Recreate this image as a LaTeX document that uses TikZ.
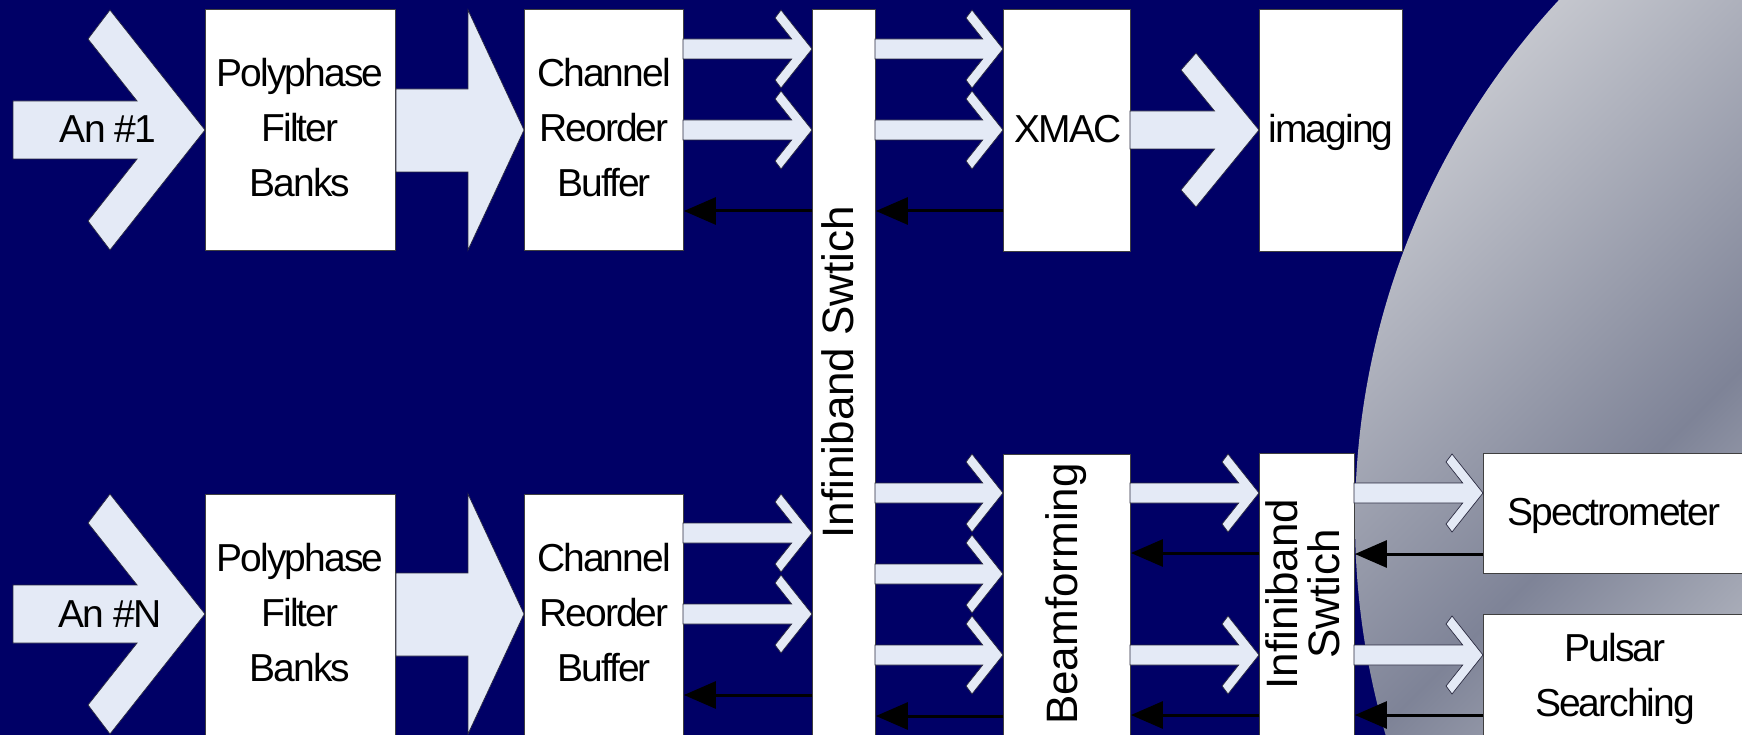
\documentclass[tikz,border=0pt]{standalone}
\usepackage{fontspec}
\setmainfont{Liberation Sans}
\newfontfamily\hfont[LetterSpace=-5]{Liberation Sans}
\newfontfamily\rfont{Liberation Sans}
\usetikzlibrary{arrows.meta}
\definecolor{navy}{HTML}{000066}
\definecolor{afill}{HTML}{E4EAF6}
\definecolor{aline}{HTML}{2A2A40}
\definecolor{bline}{HTML}{404040}
\definecolor{cLa}{HTML}{C6C8CF}
\definecolor{cDk}{HTML}{7E8397}
\definecolor{cLb}{HTML}{BEC1C9}
\tikzset{
  box/.style={draw=bline, line width=0.9pt, fill=white, inner sep=0pt, anchor=north west},
  chevsty/.style={fill=afill, draw=aline, line width=0.7pt},
  barrow/.style={-{Triangle[length=32pt,width=27pt]}, line width=3pt, black},
  hl/.style={font=\hfont\fontsize{39}{55}\selectfont, align=center, inner sep=0pt, anchor=base},
  rl/.style={font=\rfont\fontsize{44}{42}\selectfont, align=center, inner sep=0pt, anchor=base, rotate=90},
  pics/chev/.style n args={6}{code={
    % #1=L  #2=w  #3=a  #4=h  #5=qx  #6=qy
    \pgfmathsetmacro\chix{-(#5)+((#6)-(#2))*(#3)/(#4)}
    \path[chevsty] (0,0) -- (-#3,-#4) -- (-#5,-#6) -- (\chix,-#2) -- (-#1,-#2)
      -- (-#1,#2) -- (\chix,#2) -- (-#5,#6) -- (-#3,#4) -- cycle;
  }}
}
\begin{document}
\begin{tikzpicture}[x=1pt,y=-1pt]
\useasboundingbox (0,0) rectangle (1742,735);
\clip (0,0) rectangle (1742,735);
\fill[navy] (0,0) rectangle (1742,735);
% grey disc with linear gradient
\begin{scope}
  \clip (2120,520) circle[radius=765];
  \begin{scope}[transform canvas={rotate=-45}]
    \fill[cLa] (0,-3000) rectangle (1096,3000);
    \shade[left color=cLa, right color=cDk] (1095,-3000) rectangle (1493,3000);
    \shade[left color=cDk, right color=cLb] (1492,-3000) rectangle (1755,3000);
    \fill[cLb] (1754,-3000) rectangle (3000,3000);
  \end{scope}
\end{scope}
% boxes
\node[box, minimum width=190pt, minimum height=241pt] (pfb1) at (205,9) {};
\node[box, minimum width=159pt, minimum height=241pt] (crb1) at (524,9) {};
\node[box, minimum width=63pt, minimum height=740pt] (sw1) at (812,9) {};
\node[box, minimum width=127pt, minimum height=242pt] (xmac) at (1003,9) {};
\node[box, minimum width=143pt, minimum height=242pt] (img) at (1259,9) {};
\node[box, minimum width=190pt, minimum height=260pt] (pfb2) at (205,494) {};
\node[box, minimum width=159pt, minimum height=260pt] (crb2) at (524,494) {};
\node[box, minimum width=127pt, minimum height=300pt] (beam) at (1003,454) {};
\node[box, minimum width=95pt, minimum height=300pt] (sw2) at (1259,453) {};
\node[box, minimum width=270pt, minimum height=120pt] (spec) at (1483,453) {};
\node[box, minimum width=270pt, minimum height=140pt] (pul) at (1483,614) {};
% big input arrows
\pic at (pfb1.west |- 0,130) {chev={192}{29}{95}{120}{117}{91}};
\pic at (pfb2.west |- 0,614) {chev={192}{29}{95}{120}{117}{91}};
\pic at (img.west |- 0,130) {chev={129}{19}{63}{77}{78}{60}};
% block arrows PFB -> CRB
\path[chevsty] (pfb1.east |- 0,89) -- (468,89) -- (468,10) -- (crb1.west |- 0,130)
  -- (468,250) -- (468,172) -- (pfb1.east |- 0,172) -- cycle;
\path[chevsty] (pfb2.east |- 0,573) -- (468,573) -- (468,494) -- (crb2.west |- 0,614)
  -- (468,734) -- (468,656) -- (pfb2.east |- 0,656) -- cycle;
% thin chevron arrows
\pic at (sw1.west |- 0,49) {chev={129}{10}{31}{39}{37}{31}};
\pic at (sw1.west |- 0,130) {chev={129}{10}{31}{39}{37}{31}};
\pic at (xmac.west |- 0,49) {chev={128}{10}{31}{39}{37}{31}};
\pic at (xmac.west |- 0,130) {chev={128}{10}{31}{39}{37}{31}};
\pic at (sw1.west |- 0,533) {chev={129}{10}{31}{39}{37}{31}};
\pic at (sw1.west |- 0,614) {chev={129}{10}{31}{39}{37}{31}};
\pic at (beam.west |- 0,493) {chev={128}{10}{31}{39}{37}{31}};
\pic at (beam.west |- 0,574) {chev={128}{10}{31}{39}{37}{31}};
\pic at (beam.west |- 0,655) {chev={128}{10}{31}{39}{37}{31}};
\pic at (sw2.west |- 0,493) {chev={129}{10}{31}{39}{37}{31}};
\pic at (sw2.west |- 0,655) {chev={129}{10}{31}{39}{37}{31}};
\pic at (spec.west |- 0,493) {chev={129}{10}{31}{39}{37}{31}};
\pic at (pul.west |- 0,655) {chev={129}{10}{31}{39}{37}{31}};
% black return arrows
\draw[barrow] (sw1.west |- 0,211) -- (crb1.east |- 0,211);
\draw[barrow] (xmac.west |- 0,211) -- (sw1.east |- 0,211);
\draw[barrow] (sw1.west |- 0,695) -- (crb2.east |- 0,695);
\draw[barrow] (beam.west |- 0,716) -- (sw1.east |- 0,716);
\draw[barrow] (sw2.west |- 0,553) -- (beam.east |- 0,553);
\draw[barrow] (sw2.west |- 0,715) -- (beam.east |- 0,715);
\draw[barrow] (spec.west |- 0,554) -- (sw2.east |- 0,554);
\draw[barrow] (pul.west |- 0,715) -- (sw2.east |- 0,715);
% labels (base anchor = baseline of the last line)
\node[hl] (an1t) at (108,143) {An \#1};
\node[hl] (an2t) at (110,627) {An \#N};
\node[hl] (pfb1t) at (300,197) {Polyphase\\Filter\\Banks};
\node[hl] (pfb2t) at (300,681) {Polyphase\\Filter\\Banks};
\node[hl] (crb1t) at (604,197) {Channel\\Reorder\\Buffer};
\node[hl] (crb2t) at (604,681) {Channel\\Reorder\\Buffer};
\node[hl] (xmact) at (1068,143) {XMAC};
\node[hl] (imgt) at (1331,143) {imaging};
\node[hl] (spect) at (1614,525) {Spectrometer};
\node[hl] (pult) at (1615,716) {Pulsar\\Searching};
\node[rl] (sw1t) at (853,372) {Infiniband Swtich};
\node[rl] (beamt) at (1077,594) {Beamforming};
\node[rl] (sw2t) at (1339,594) {Infiniband\\Swtich};
\end{tikzpicture}
\end{document}
